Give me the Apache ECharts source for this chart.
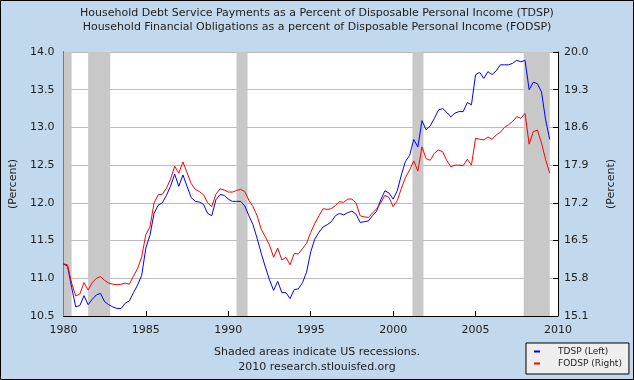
<!DOCTYPE html>
<html>
<head>
<meta charset="utf-8">
<script src="https://cdn.jsdelivr.net/npm/echarts@6/dist/echarts.min.js"></script>
<style>
html,body{margin:0;padding:0;background:#C2D8EC;}
#chart{width:634px;height:380px;}
</style>
</head>
<body>
<div id="chart"></div>
<script>
// Quarterly observations, 1980 Q1 .. 2009 Q3
var startYear = 1980;
var tdsp = [
11.19,11.16,10.88,10.62,10.64,10.77,10.65,10.72,10.78,10.80,
10.69,10.65,10.62,10.60,10.60,10.67,10.70,10.81,10.91,11.04,
11.40,11.57,11.86,11.97,12.00,12.10,12.22,12.38,12.22,12.37,
12.22,12.07,12.02,12.01,11.98,11.86,11.83,12.04,12.11,12.10,
12.05,12.02,12.02,12.02,11.96,11.83,11.71,11.53,11.33,11.15,
10.98,10.84,10.96,10.81,10.81,10.73,10.85,10.86,10.94,11.08,
11.35,11.52,11.61,11.68,11.71,11.75,11.83,11.86,11.84,11.87,
11.89,11.85,11.74,11.75,11.76,11.83,11.89,12.04,12.16,12.13,
12.05,12.16,12.37,12.55,12.63,12.84,12.74,13.09,12.97,13.02,
13.12,13.23,13.25,13.20,13.14,13.19,13.21,13.21,13.33,13.30,
13.70,13.73,13.65,13.74,13.70,13.75,13.83,13.83,13.83,13.85,
13.89,13.87,13.89,13.50,13.60,13.58,13.47,13.10,12.84
];
var fodsp = [
16.07,16.05,15.71,15.47,15.51,15.72,15.58,15.72,15.80,15.83,
15.76,15.71,15.69,15.68,15.69,15.71,15.69,15.84,15.98,16.20,
16.61,16.75,17.20,17.35,17.36,17.47,17.64,17.88,17.75,17.96,
17.76,17.56,17.45,17.41,17.35,17.20,17.13,17.36,17.46,17.44,
17.40,17.40,17.43,17.45,17.41,17.25,17.13,16.96,16.71,16.57,
16.42,16.19,16.36,16.14,16.19,16.05,16.26,16.25,16.35,16.45,
16.65,16.82,16.96,17.09,17.08,17.09,17.15,17.22,17.21,17.27,
17.27,17.20,16.96,16.94,16.93,17.01,17.09,17.20,17.34,17.30,
17.13,17.24,17.47,17.67,17.81,17.98,17.79,18.24,18.02,17.99,
18.12,18.18,18.15,17.99,17.87,17.90,17.90,17.89,18.01,17.90,
18.40,18.38,18.37,18.42,18.38,18.46,18.51,18.60,18.65,18.71,
18.80,18.77,18.86,18.29,18.52,18.55,18.31,18.00,17.75
];
// NBER recessions (decimal years)
var recessions = [
  [1980.0, 1980.5],
  [1981.5, 1982.84],
  [1990.5, 1991.17],
  [2001.17, 2001.84],
  [2007.92, 2009.5]
];
var titleLines = [
  'Household Debt Service Payments as a Percent of Disposable Personal Income (TDSP)',
  'Household Financial Obligations as a percent of Disposable Personal Income (FODSP)'
];
var footLines = ['Shaded areas indicate US recessions.', '2010 research.stlouisfed.org'];

function toPairs(arr){
  return arr.map(function(v,i){ return [startYear + i/4, v]; });
}

var FONT = 'DejaVu Sans';
var TXT = '#1e1e1e';
var chart = echarts.init(document.getElementById('chart'), null, {renderer:'canvas'});
chart.setOption({
  backgroundColor: '#C2D8EC',
  animation: false,
  textStyle: {fontFamily: FONT},
  title: [
    {text: titleLines[0] + '\n' + titleLines[1], left: 'center', top: 6, padding: 0,
     textStyle: {fontFamily: FONT, fontSize: 11, fontWeight: 'normal', color: TXT, lineHeight: 14}},
    {text: footLines[0] + '\n' + footLines[1], left: 'center', top: 345, padding: 0,
     textStyle: {fontFamily: FONT, fontSize: 11, fontWeight: 'normal', color: TXT, lineHeight: 15}}
  ],
  legend: {
    orient: 'vertical', left: 526, top: 343,
    padding: [4, 7, 6, 8], itemGap: 3,
    itemWidth: 6, itemHeight: 2, icon: 'rect',
    backgroundColor: '#EEEEEE', borderColor: '#000', borderWidth: 1,
    textStyle: {fontFamily: FONT, fontSize: 9, color: TXT, padding: [0,0,0,13]},
    data: ['TDSP (Left)', 'FODSP (Right)']
  },
  graphic: [{
    type: 'rect', silent: true, z: 100,
    shape: {x: 0.5, y: 0.5, width: 633, height: 379},
    style: {fill: 'none', stroke: '#000', lineWidth: 1}
  }],
  grid: {left: 62, right: 76, top: 52, bottom: 64, show: true, backgroundColor: '#FFFFFF', borderWidth: 0},
  xAxis: {
    type: 'value', min: 1980, max: 2010, interval: 5,
    axisLine: {show: true, lineStyle: {color: '#000', width: 1}},
    axisTick: {show: true, inside: true, length: 5, lineStyle: {color: '#000'}},
    axisLabel: {fontFamily: FONT, fontSize: 11, color: TXT, margin: 9,
      formatter: function(v){ return String(Math.round(v)); }},
    splitLine: {show: false}
  },
  yAxis: [{
    type: 'value', position: 'left', min: 10.5, max: 14.0, interval: 0.5,
    name: '(Percent)', nameLocation: 'middle', nameRotate: 90, nameGap: 42,
    nameTextStyle: {fontFamily: FONT, fontSize: 11, color: TXT},
    axisLine: {show: true, lineStyle: {color: '#000', width: 1}},
    axisTick: {show: true, inside: true, length: 5, lineStyle: {color: '#000'}},
    axisLabel: {fontFamily: FONT, fontSize: 11, color: TXT, margin: 9,
      formatter: function(v){ return v.toFixed(1); }},
    splitLine: {show: true, lineStyle: {color: '#BBBBBB', width: 1}}
  },{
    type: 'value', position: 'right', min: 15.1, max: 20.0, interval: 0.7,
    name: '(Percent)', nameLocation: 'middle', nameRotate: 90, nameGap: 48,
    nameTextStyle: {fontFamily: FONT, fontSize: 11, color: TXT},
    axisLine: {show: true, lineStyle: {color: '#000', width: 1}},
    axisTick: {show: true, inside: true, length: 5, lineStyle: {color: '#000'}},
    axisLabel: {fontFamily: FONT, fontSize: 11, color: TXT, margin: 6,
      formatter: function(v){ return v.toFixed(1); }},
    splitLine: {show: false}
  }],
  series: [{
    name: 'TDSP (Left)', type: 'line', yAxisIndex: 0,
    data: toPairs(tdsp), showSymbol: false, symbol: 'none',
    lineStyle: {color: '#0000FF', width: 1}, itemStyle: {color: '#0000FF'},
    z: 3,
    markArea: {
      silent: true,
      itemStyle: {color: '#C8C8C8'},
      data: recessions.map(function(r){ return [{xAxis: r[0]}, {xAxis: r[1]}]; })
    }
  },{
    name: 'FODSP (Right)', type: 'line', yAxisIndex: 1,
    data: toPairs(fodsp), showSymbol: false, symbol: 'none',
    lineStyle: {color: '#FF0000', width: 1}, itemStyle: {color: '#FF0000'},
    z: 3
  }]
});
</script>
</body>
</html>
